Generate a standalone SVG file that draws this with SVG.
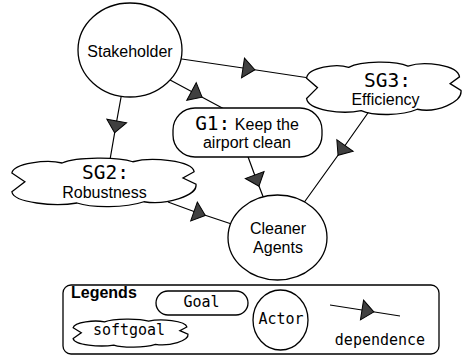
<svg xmlns="http://www.w3.org/2000/svg" width="462" height="356" viewBox="0 0 462 356">
  <style>
    .shape { fill: #fff; stroke: #000; stroke-width: 1.3; }
    .cloud { fill: #fff; stroke: #000; stroke-width: 1.3; vector-effect: non-scaling-stroke; }
    .dep { fill: none; stroke: #000; stroke-width: 1.2; marker-mid: url(#dep); }
    text { fill: #000; text-anchor: middle; }
    .sans { font-family: "Liberation Sans", Arial, sans-serif; font-size: 16px; }
    .mono { font-family: "DejaVu Sans Mono", monospace; }
    .lbl { font-size: 19.5px; }
    .leg { font-size: 15px; }
    .title { font-family: "Liberation Sans", Arial, sans-serif; font-size: 16px; font-weight: bold; text-anchor: start; }
  </style>
  <defs>
    <!-- dependence symbol, placed on the middle vertex of each connector -->
    <marker id="dep" markerUnits="userSpaceOnUse" viewBox="-2 -12 16 24" refX="0" refY="0"
            markerWidth="16" markerHeight="24" orient="auto" overflow="visible">
      <path d="M0,-10 L12,0 L0,10 Z" fill="#404040" stroke="#000" stroke-width="1"/>
    </marker>
    <!-- softgoal cloud in a 100 x 40 box, scaled per node -->
    <path id="cloud" class="cloud" vector-effect="non-scaling-stroke"
          d="M1,12 C2,4 20,1 28,4 C36,-1 58,-1 66,3 C76,-1 98,2 99,11 L93,16 L100,21
             C101,30 84,38 72,35 C62,40 44,40 36,36 C24,39 2,36 1,27 L8,19 Z"/>
  </defs>

  <g id="connectors">
    <polyline class="dep" points="175,58 243,68 306,77.5"/>
    <polyline class="dep" points="122,92 116.7,121 109.6,162"/>
    <polyline class="dep" points="165,77.3 191.5,91.5 226,110"/>
    <polyline class="dep" points="247,154 254.7,175 264,199"/>
    <polyline class="dep" points="168,202 194,211.5 233,224.5"/>
    <polyline class="dep" points="370,110 345,145.5 303,204"/>
  </g>

  <g id="stakeholder">
    <ellipse class="shape" cx="130" cy="50" rx="52" ry="47"/>
    <text class="sans" x="130" y="57">Stakeholder</text>
  </g>

  <g id="sg2">
    <use href="#cloud" transform="translate(10,158) scale(1.86,1.25)"/>
    <text class="mono lbl" x="105.5" y="179">SG2:</text>
    <text class="sans" x="104.5" y="198">Robustness</text>
  </g>

  <g id="g1">
    <rect class="shape" x="173" y="108" width="149" height="49" rx="22" ry="22"/>
    <text class="sans" x="247" y="130"><tspan class="mono lbl">G1:</tspan> Keep the</text>
    <text class="sans" x="247" y="148">airport clean</text>
  </g>

  <g id="sg3">
    <use href="#cloud" transform="translate(305,62) scale(1.56,1.35)"/>
    <text class="mono lbl" x="387.5" y="87">SG3:</text>
    <text class="sans" x="385.5" y="105">Efficiency</text>
  </g>

  <g id="cleaner-agents">
    <ellipse class="shape" cx="277.5" cy="237.5" rx="49.5" ry="42.5"/>
    <text class="sans" x="278" y="234">Cleaner</text>
    <text class="sans" x="278" y="253">Agents</text>
  </g>

  <g id="legend">
    <rect class="shape" x="63" y="285" width="376" height="69" rx="8" ry="8"/>
    <text class="title" x="71" y="298">Legends</text>
    <rect class="shape" x="156" y="291" width="92" height="24" rx="12" ry="12"/>
    <text class="mono leg" x="201.5" y="307">Goal</text>
    <use href="#cloud" transform="translate(72,319) scale(1.16,0.725)"/>
    <text class="mono leg" x="129" y="335">softgoal</text>
    <ellipse class="shape" cx="280.5" cy="320" rx="27.5" ry="30"/>
    <text class="mono leg" x="281" y="324">Actor</text>
    <polyline class="dep" points="330,305 362,310 400,316"/>
    <text class="mono leg" x="380" y="345">dependence</text>
  </g>
</svg>
